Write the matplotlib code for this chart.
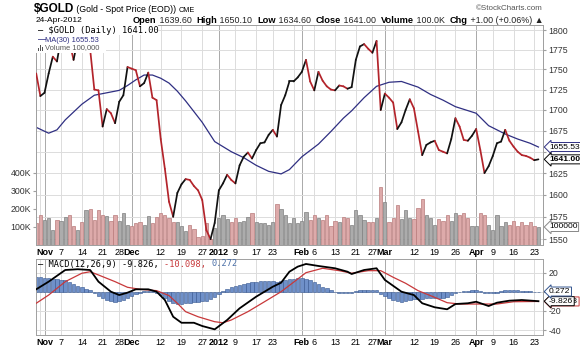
import matplotlib

matplotlib.use("Agg")
import matplotlib.pyplot as plt  # noqa: E402
import matplotlib.transforms as mtransforms  # noqa: E402
import numpy as np  # noqa: E402
import pandas as pd  # noqa: E402
from matplotlib.collections import LineCollection  # noqa: E402
from matplotlib.patches import Rectangle  # noqa: E402
from matplotlib.ticker import FixedLocator, NullLocator  # noqa: E402

plt.rcParams["font.family"] = ["Liberation Sans", "DejaVu Sans"]

# trading calendar, 2011-10-28 .. 2012-04-24 (US holidays dropped)
HOLIDAYS = ["2011-11-24", "2011-12-26", "2012-01-02", "2012-01-16",
            "2012-02-20", "2012-04-06"]
dates = pd.bdate_range("2011-10-28", "2012-04-24", freq="C", holidays=HOLIDAYS)

# daily close, one per trading day
close = [
    1745, 1717, 1721, 1745, 1766, 1760, 1790, 1795, 1785, 1762,
    1788, 1780, 1783, 1775, 1725, 1724, 1680, 1701, 1696, 1684,
    1710, 1718, 1753, 1751, 1749, 1729, 1733, 1746, 1715, 1712,
    1665, 1630, 1592, 1575, 1602, 1612, 1618, 1617, 1610, 1605,
    1594, 1560, 1550, 1568, 1605, 1613, 1623, 1617, 1613, 1634,
    1644, 1649, 1642, 1652, 1660, 1661, 1670, 1676, 1668, 1706,
    1718, 1735, 1735, 1740, 1747, 1762, 1735, 1724, 1747, 1736,
    1729, 1725, 1724, 1730, 1729, 1726, 1728, 1762, 1779, 1782,
    1776, 1771, 1786, 1700, 1720, 1715, 1709, 1677, 1685, 1700,
    1713, 1702, 1674, 1646, 1658, 1661, 1663, 1652, 1650, 1648,
    1665, 1690, 1680, 1664, 1663, 1669, 1677, 1652, 1625, 1633,
    1645, 1660, 1662, 1676, 1663, 1656, 1650, 1646, 1645, 1643,
    1640, 1641,
]

# daily volume, thousands
volume_k = [
    120, 169, 139, 150, 85, 139, 133, 157, 166, 103,
    85, 130, 193, 202, 139, 196, 166, 163, 133, 169,
    133, 175, 112, 108, 120, 130, 112, 163, 120, 156,
    175, 166, 148, 130, 130, 108, 79, 112, 90, 45,
    49, 120, 35, 97, 148, 166, 145, 130, 151, 130,
    133, 157, 175, 130, 120, 120, 112, 130, 229, 202,
    166, 120, 148, 120, 133, 185, 139, 166, 148, 139,
    166, 103, 133, 130, 157, 150, 110, 193, 168, 139,
    130, 126, 151, 324, 238, 130, 151, 223, 145, 193,
    148, 145, 205, 256, 169, 148, 112, 145, 133, 166,
    133, 178, 169, 178, 148, 103, 103, 178, 169, 112,
    85, 166, 108, 130, 112, 133, 103, 130, 112, 125,
    108, 100,
]

# 30-day moving average, sampled along the curve (day 0 = 2011-11-01)
ma_day = [-2, 1, 3, 5, 9, 12, 16, 18, 20, 22, 24, 26, 28, 30, 32, 34, 36,
          38, 41, 45, 48, 51, 54, 57, 59, 62, 66, 69, 72, 74, 77, 80, 83,
          86, 90, 93, 96, 99, 104, 107, 111, 114, 117, 119]
ma_value = [1679, 1672, 1676, 1688, 1707, 1718, 1722, 1724, 1730, 1737,
            1743, 1743, 1739, 1733, 1723, 1711, 1698, 1685, 1662, 1650,
            1643, 1634, 1627, 1624, 1629, 1644, 1659, 1674, 1690, 1699,
            1715, 1729, 1734, 1735, 1728, 1719, 1712, 1704, 1696, 1681,
            1671, 1665, 1660, 1655.53]

# MACD(12,26,9) line and its signal line
macd_day = [-2, 1, 5, 8, 11, 13, 16, 18, 20, 22, 25, 27, 29, 31, 33, 36,
            38, 41, 44, 47, 51, 55, 57, 59, 61, 63, 66, 70, 73, 74, 77, 80,
            82, 86, 89, 91, 94, 97, 99, 102, 104, 107, 109, 112, 115, 119]
macd_value = [2.6, 10.6, 22.8, 23.6, 22.8, 10.6, 0.1, -3.4, -0.9, 2.6, 2.6,
              0.1, -8.6, -26.1, -32.4, -32.4, -35.8, -39.3, -29.5, -17.3,
              -5.1, 5.3, 9.5, 21.0, 26.3, 29.1, 27.0, 24.6, 21.0, 18.6, 22.8,
              24.6, 12.4, 0.1, -3.4, -12.0, -16.2, -18.3, -12.8, -12.0,
              -10.4, -14.9, -11.4, -9.3, -8.6, -9.826]
signal_day = [-2, 1, 5, 9, 11, 13, 17, 20, 23, 27, 30, 32, 34, 37, 41, 43,
              45, 49, 53, 57, 60, 63, 67, 71, 74, 78, 81, 84, 87, 90, 94,
              97, 100, 105, 109, 113, 119]
signal_value = [-12.0, -3.4, 10.6, 19.4, 21.0, 17.6, 10.6, 4.7, 2.6, 1.2,
                -4.0, -12.0, -20.8, -26.1, -31.3, -32.4, -29.5, -20.8, -10.4,
                0.1, 10.0, 20.0, 24.6, 22.1, 19.4, 22.1, 22.1, 15.2, 8.9, 1.2,
                -5.8, -11.4, -12.8, -12.8, -12.8, -10.4, -10.098]
# histogram, one bar per trading day
hist_value = [
    15, 15, 14.5, 14, 13.5, 13, 12.5, 12, 10, 8,
    6, 4.5, 3, 1.5, -1, -4, -6.5, -8.5, -9.5, -10.5,
    -10, -8.5, -6.5, -4.5, -2.5, -1, 0.5, 1, 0.5, -1,
    -3.5, -7, -10, -12, -12.5, -12.5, -12, -11.5, -11, -10.5,
    -10, -10, -8, -5.5, -2.5, 0.5, 3, 5, 6.5, 7.5,
    8.5, 9.5, 10, 10.5, 11, 11, 11, 11, 10.5, 11,
    12, 13, 13.5, 14, 14, 13.5, 12, 10, 8, 5.5,
    3.5, 1.5, 0, -1, -1.5, -1.5, -1, 0.5, 1.5, 2,
    2, 2, 1.5, -2, -4.5, -6.5, -8.5, -10, -10.5, -10,
    -9, -8, -8, -7.5, -7, -6.5, -6.5, -6.5, -6, -5,
    -3.5, -1.5, -0.5, 0.5, 1, 1.5, 1.5, 0.5, -1, -1.5,
    -1.5, -1, 0.5, 1.5, 2, 2, 1.5, 1, 0.5, 0.5,
    0.3, 0.272,
]

tick_dates = ["2011-11-01", "2011-11-07", "2011-11-14", "2011-11-21",
              "2011-11-28", "2011-12-01", "2011-12-12", "2011-12-19",
              "2011-12-27", "2012-01-03", "2012-01-09", "2012-01-17",
              "2012-01-23", "2012-02-01", "2012-02-06", "2012-02-13",
              "2012-02-21", "2012-02-27", "2012-03-01", "2012-03-12",
              "2012-03-19", "2012-03-26", "2012-04-02", "2012-04-09",
              "2012-04-16", "2012-04-23"]
tick_labels = ["Nov", "7", "14", "21", "28", "Dec", "12", "19", "27", "2012",
               "9", "17", "23", "Feb", "6", "13", "21", "27", "Mar", "12",
               "19", "26", "Apr", "9", "16", "23"]
month_labels = {"Nov", "Dec", "2012", "Feb", "Mar", "Apr"}
grid_only_dates = ["2011-10-31", "2011-12-05", "2012-01-30", "2012-03-05"]

price_ticks = [1550, 1575, 1600, 1625, 1650, 1675, 1700, 1725, 1750, 1775, 1800]
volume_ticks = [100, 200, 300, 400]
macd_ticks = [20, 0, -20, -40]

UP, DOWN = "#111111", "#b3242b"
MA_COLOR = "#2f2f82"
VOL_UP, VOL_UP_EDGE = "#acacac", "#808080"
VOL_DN, VOL_DN_EDGE = "#ddaaaa", "#b97c7c"
HIST, HIST_EDGE = "#6f90c9", "#34558f"
SIG = "#c8383a"
GRID = "#dcdcdc"
GRID_MONTH = "#a9a9a9"
SPINE = "#a0a0a0"
TXT = "#333333"

x = np.arange(len(dates))
day0 = dates.get_loc(pd.Timestamp("2011-11-01"))
tick_pos = [dates.get_loc(pd.Timestamp(d)) for d in tick_dates]
extra_pos = [dates.get_loc(pd.Timestamp(d)) for d in grid_only_dates]
xlim = (-0.05, len(dates) + 0.1)

W, H = 580, 349
fig = plt.figure(figsize=(W / 100, H / 100), dpi=100)


def frac(left, top, right, bottom):
    return [left / W, 1 - bottom / H, (right - left) / W, (bottom - top) / H]


bg = fig.add_axes([0, 0, 1, 1])
bg.axis("off")


def chain(parts, x0, y0, **kw):
    prev = None
    for s, size, weight, color in parts:
        if prev is None:
            prev = bg.text(x0, y0, s, fontsize=size, fontweight=weight,
                           color=color, ha="left", va="bottom",
                           transform=bg.transAxes, **kw)
        else:
            prev = bg.annotate(s, xy=(1, 0), xycoords=prev, fontsize=size,
                               fontweight=weight, color=color, ha="left",
                               va="bottom", **kw)
    return prev


# header
chain([("$GOLD", 8.5, "bold", "#000000"),
       (" (Gold - Spot Price (EOD)) ", 6.3, "normal", "#000000"),
       ("CME", 5.2, "normal", "#000000")], 34 / W, 1 - 14.5 / H)
bg.text(543 / W, 1 - 8 / H, "\u00a9StockCharts.com", fontsize=5.8,
        color="#555555", ha="right", va="center")
bg.text(36 / W, 1 - 20 / H, "24-Apr-2012", fontsize=6.0, color="#000000",
        ha="left", va="center")
bold_sz, norm_sz = 6.7, 6.4
chain([("Open", bold_sz, "bold", "#000000"), (" 1639.60  ", norm_sz, "normal", "#222222"),
       ("High", bold_sz, "bold", "#000000"), (" 1650.10  ", norm_sz, "normal", "#222222"),
       ("Low", bold_sz, "bold", "#000000"), (" 1634.60  ", norm_sz, "normal", "#222222"),
       ("Close", bold_sz, "bold", "#000000"), (" 1641.00  ", norm_sz, "normal", "#222222"),
       ("Volume", bold_sz, "bold", "#000000"), (" 100.0K  ", norm_sz, "normal", "#222222"),
       ("Chg", bold_sz, "bold", "#000000"),
       (" +1.00 (+0.06%) \u25b2", norm_sz, "normal", "#222222")],
      133 / W, 1 - 25 / H)

# ---- price panel (volume underneath, price on top) ----
ax_vol = fig.add_axes(frac(36, 25, 543, 245))
ax_price = ax_vol.twinx()


def is_month(pos):
    return pos in tick_pos and tick_labels[tick_pos.index(pos)] in month_labels


for d in tick_pos + extra_pos:
    ax_vol.axvline(d, color=GRID_MONTH if is_month(d) else GRID, lw=0.7, zorder=0.5)
price_grid_tf = mtransforms.blended_transform_factory(ax_vol.transAxes,
                                                      ax_price.transData)
for p in price_ticks:
    ax_vol.plot([0, 1], [p, p], color=GRID, lw=0.7, transform=price_grid_tf,
                zorder=0.5)

up_day = [False] + [close[k] >= close[k - 1] for k in range(1, len(close))]
ax_vol.bar(x, volume_k, width=0.78,
           color=[VOL_UP if u else VOL_DN for u in up_day],
           edgecolor=[VOL_UP_EDGE if u else VOL_DN_EDGE for u in up_day],
           linewidth=0.5, zorder=2)
ax_vol.set_ylim(0, 1222)
ax_vol.set_xlim(*xlim)
ax_vol.yaxis.set_major_locator(FixedLocator(volume_ticks))
ax_vol.set_yticklabels([f"{v}K" for v in volume_ticks])
ax_vol.tick_params(axis="y", length=2, pad=1.5, labelsize=6.3,
                   labelcolor=TXT, color=SPINE)
ax_vol.set_xticks(tick_pos)
ax_vol.set_xticklabels(tick_labels)
ax_vol.tick_params(axis="x", length=0, pad=2.5, labelsize=6.5, labelcolor="#000000")
for t in ax_vol.get_xticklabels():
    if t.get_text() in month_labels:
        t.set_fontweight("bold")

pts = np.column_stack([x, close])
segs = np.stack([pts[:-1], pts[1:]], axis=1)
seg_colors = [UP if close[k + 1] >= close[k] else DOWN for k in range(len(close) - 1)]
ax_price.add_collection(LineCollection(segs, colors=seg_colors, linewidths=1.25,
                                       capstyle="round", joinstyle="round",
                                       zorder=3))
ax_price.plot(np.array(ma_day) + day0, ma_value, color=MA_COLOR, lw=0.9, zorder=2.5)
ax_price.set_yscale("log")
ax_price.set_ylim(1543.5, 1806.5)
ax_price.set_xlim(*xlim)
ax_price.yaxis.set_major_locator(FixedLocator(price_ticks))
ax_price.yaxis.set_minor_locator(NullLocator())
ax_price.set_yticklabels(["" if p == 1650 else str(p) for p in price_ticks])
ax_price.tick_params(axis="y", which="both", length=2.5, pad=1.5, labelsize=6.3,
                     labelcolor=TXT, color=SPINE)

for a in (ax_vol, ax_price):
    for s in a.spines.values():
        s.set_color(SPINE)
        s.set_linewidth(0.7)


def tag(ax, y, trans, text, edge, bold=False, color="#000000"):
    tf = mtransforms.blended_transform_factory(ax.transAxes, trans)
    ax.text(1.012, y, text, transform=tf, ha="left", va="center", fontsize=6.1,
            fontweight="bold" if bold else "normal", color=color, clip_on=False,
            zorder=20,
            bbox=dict(boxstyle="larrow,pad=0.12", fc="white", ec=edge, lw=0.7))


tag(ax_price, ma_value[-1], ax_price.transData, f"{ma_value[-1]:.2f}", MA_COLOR)
tag(ax_price, close[-1], ax_price.transData, f"{close[-1]:.2f}", "#000000", bold=True)
tag(ax_vol, volume_k[-1], ax_vol.transData, f"{volume_k[-1] * 1000}", "#888888")

# legend block, white background over the lines
ax_price.add_patch(Rectangle((0, 1 - 28 / 220), 70 / 507, 28 / 220,
                             transform=ax_price.transAxes, fc="white", ec="none",
                             zorder=8))
ax_price.add_patch(Rectangle((0, 1 - 10 / 220), 122 / 507, 10 / 220,
                             transform=ax_price.transAxes, fc="white", ec="none",
                             zorder=8))
ax_price.text(2 / 507, 1 - 5.5 / 220, "\u2014 $GOLD (Daily) 1641.00",
              transform=ax_price.transAxes, fontsize=6.2,
              family="DejaVu Sans Mono", color="#000000", va="center", zorder=9)
ax_price.text(2 / 507, 1 - 15 / 220, "\u2014", transform=ax_price.transAxes,
              fontsize=6, fontweight="bold", color=MA_COLOR, va="center", zorder=9)
ax_price.text(9 / 507, 1 - 15 / 220, f"MA(30) {ma_value[-1]:.2f}",
              transform=ax_price.transAxes, fontsize=5.4, color=MA_COLOR,
              va="center", zorder=9)
for k, h in enumerate((3, 6, 4)):
    ax_price.add_patch(Rectangle(((2 + 2 * k) / 507, 1 - 26 / 220), 1.3 / 507,
                                 h / 220, transform=ax_price.transAxes,
                                 fc="#555555", ec="none", zorder=9))
ax_price.text(9 / 507, 1 - 23 / 220, f"Volume {volume_k[-1] * 1000:,}",
              transform=ax_price.transAxes, fontsize=5.4, color="#555555",
              va="center", zorder=9)

# ---- MACD panel ----
ax_m = fig.add_axes(frac(36, 259, 543, 335))
for d in tick_pos + extra_pos:
    ax_m.axvline(d, color=GRID_MONTH if is_month(d) else GRID, lw=0.7, zorder=0.5)
for v in macd_ticks:
    ax_m.axhline(v, color=GRID, lw=0.7, zorder=0.5)
ax_m.bar(x, hist_value, width=0.85, color=HIST, edgecolor=HIST_EDGE,
         linewidth=0.4, zorder=2)
ax_m.plot(np.array(signal_day) + day0, signal_value, color=SIG, lw=0.9, zorder=3)
ax_m.plot(np.array(macd_day) + day0, macd_value, color="#000000", lw=1.3, zorder=4)
ax_m.set_xlim(*xlim)
ax_m.set_ylim(-45.2, 34.3)
ax_m.yaxis.tick_right()
ax_m.yaxis.set_major_locator(FixedLocator(macd_ticks))
ax_m.set_yticklabels(["" if v == 0 else str(v) for v in macd_ticks])
ax_m.tick_params(axis="y", length=2.5, pad=1.5, labelsize=6.3, labelcolor=TXT,
                 color=SPINE)
ax_m.set_xticks(tick_pos)
ax_m.set_xticklabels(tick_labels)
ax_m.tick_params(axis="x", length=0, pad=2.5, labelsize=6.5, labelcolor="#000000")
for t in ax_m.get_xticklabels():
    if t.get_text() in month_labels:
        t.set_fontweight("bold")
for s in ax_m.spines.values():
    s.set_color(SPINE)
    s.set_linewidth(0.7)

# signal tag sits behind the MACD tag, only its right edge shows
tag(ax_m, signal_value[-1], ax_m.transData, f"{signal_value[-1]:.3f}", SIG)
tag(ax_m, macd_value[-1], ax_m.transData, f"{macd_value[-1]:.3f}", "#000000")
tag(ax_m, hist_value[-1], ax_m.transData, f"{hist_value[-1]:.3f}", HIST_EDGE)

prev = ax_m.text(2 / 507, 1 - 5 / 76, "\u2014 MACD(12,26,9) "
                 f"{macd_value[-1]:.3f}, ", transform=ax_m.transAxes,
                 fontsize=6.2, family="DejaVu Sans Mono", color="#000000",
                 va="center", zorder=9)
prev = ax_m.annotate(f"{signal_value[-1]:.3f}, ", xy=(1, 0.5), xycoords=prev,
                     fontsize=6.2, family="DejaVu Sans Mono", color=SIG,
                     va="center", zorder=9)
ax_m.annotate(f"{hist_value[-1]:.3f}", xy=(1, 0.5), xycoords=prev,
              fontsize=6.2, family="DejaVu Sans Mono", color="#4a6fa8",
              va="center", zorder=9)

fig.savefig("out.png", dpi=100)
